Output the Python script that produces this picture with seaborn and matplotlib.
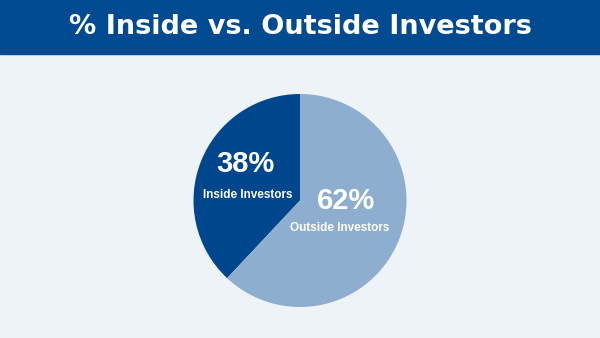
import matplotlib
matplotlib.use("Agg")
import matplotlib.pyplot as plt
from matplotlib.patches import Rectangle
import seaborn as sns

title = "% Inside vs. Outside Investors"
categories = ["Inside Investors", "Outside Investors"]
shares = [38, 62]
colors = ["#00468c", "#8eaecf"]

sns.set_theme(style="white")
plt.rcParams['font.family'] = ['DejaVu Sans']

W, H = 600, 338
fig = plt.figure(figsize=(6, 3.38), dpi=100)
fig.patch.set_facecolor("#eef3f8")
ax = fig.add_axes([0, 0, 1, 1])
ax.set_facecolor("#eef3f8")

# banner
ax.add_patch(Rectangle((0, H - 54), W, 54, color="#004a91", zorder=1))
ax.text(W / 2, H - 27, title, color="white", fontsize=19.5, fontweight="bold",
        ha="center", va="center", zorder=3)

cx, cy, r = 300, H - 200.5, 106.5
ax.pie(shares, colors=colors, startangle=90, counterclock=True,
       center=(cx, cy), radius=r, wedgeprops=dict(linewidth=0), frame=True)
ax.set_xlim(0, W)
ax.set_ylim(0, H)
ax.set_aspect("equal")
ax.axis("off")

narrow = ['Liberation Sans Narrow', 'Liberation Sans', 'DejaVu Sans']
pos = [((245, H - 164), (248, H - 195)), ((346, H - 201), (340, H - 228))]
for cat, val, (p1, p2) in zip(categories, shares, pos):
    ax.text(p1[0], p1[1], f"{val}%", color="white", fontsize=21, fontweight="bold",
            ha="center", va="center", family=['Liberation Sans', 'DejaVu Sans'])
    ax.text(p2[0], p2[1], cat, color="white", fontsize=8.5, fontweight="bold",
            ha="center", va="center", family=narrow)

fig.savefig("out.png", dpi=100, facecolor=fig.get_facecolor())
